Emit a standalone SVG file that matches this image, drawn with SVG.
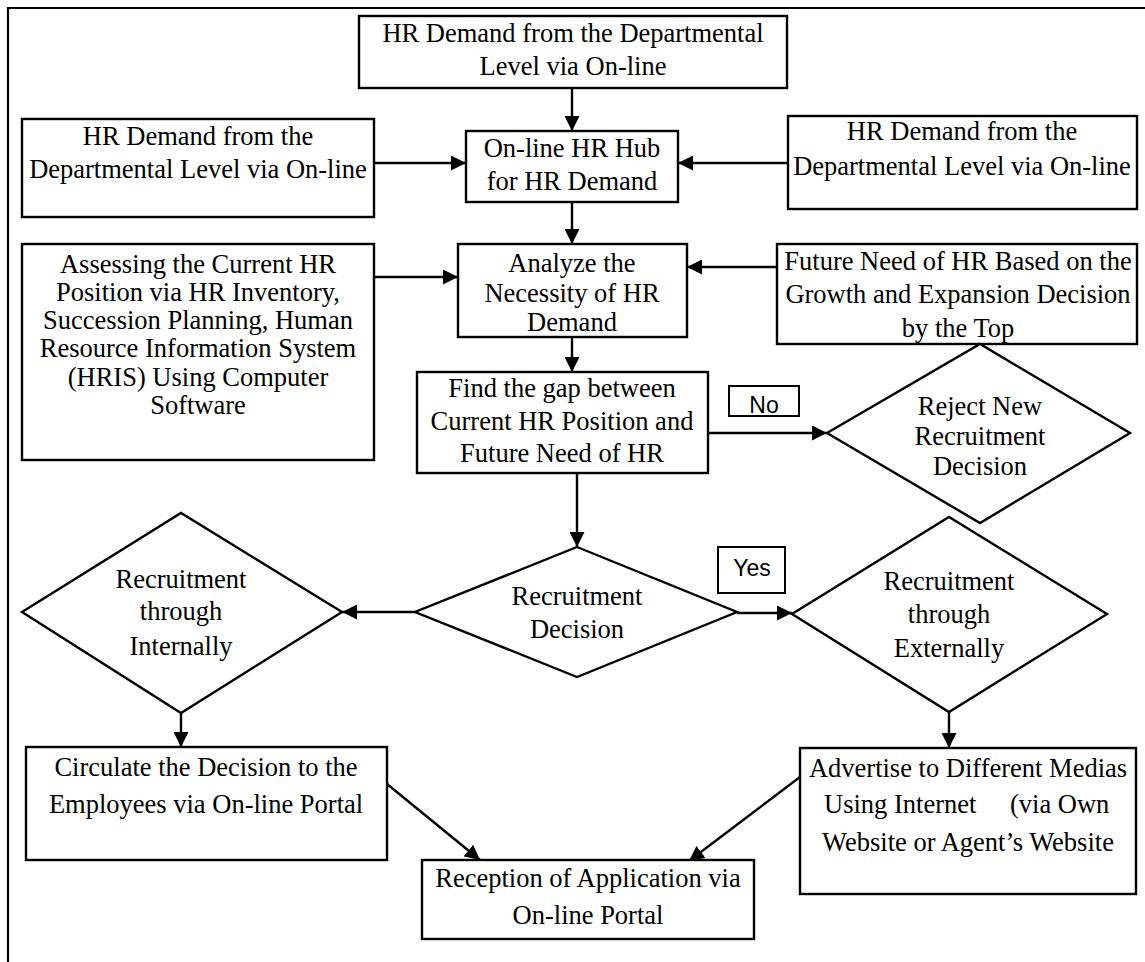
<svg xmlns="http://www.w3.org/2000/svg" width="1145" height="962" viewBox="0 0 1145 962">
  <style>
    .box { fill: #fff; stroke: #000; stroke-width: 2.4; }
    .lbl { fill: #fff; stroke: #000; stroke-width: 2; }
    .t { font-family: "Liberation Serif", "Times New Roman", serif; font-size: 26.5px; fill: #000; text-anchor: middle; }
    .s { font-family: "Liberation Sans", Arial, sans-serif; font-size: 23px; fill: #000; text-anchor: middle; }
    .c { fill: none; stroke: #000; stroke-width: 2.4; marker-end: url(#arrow); }
  </style>
  <defs>
    <marker id="arrow" markerUnits="userSpaceOnUse" markerWidth="15" markerHeight="15" refX="15" refY="7.5" orient="auto">
      <path d="M0,0 L15,7.5 L0,15 z" fill="#000"/>
    </marker>
  </defs>
  <rect width="1145" height="962" fill="#fff"/>
  <!-- page frame -->
  <path d="M8,962 V8 H1145" fill="none" stroke="#000" stroke-width="2.2"/>

  <g id="connectors">
    <path class="c" d="M572,88 V131"/>
    <path class="c" d="M374,163 H466"/>
    <path class="c" d="M788,163 H678"/>
    <path class="c" d="M572,202 V244"/>
    <path class="c" d="M374,277 H458"/>
    <path class="c" d="M777,267 H687"/>
    <path class="c" d="M572,337 V372"/>
    <path class="c" d="M708,433 H827"/>
    <path class="c" d="M577,473 V547"/>
    <path class="c" d="M415,612 H342"/>
    <path class="c" d="M737,613 H792"/>
    <path class="c" d="M181,713 V747"/>
    <path class="c" d="M949,712 V748"/>
    <path class="c" d="M387,784 L480,860"/>
    <path class="c" d="M800,777 L689,861"/>
  </g>

  <g id="demand-top">
    <rect class="box" x="359" y="16" width="428" height="72"/>
    <text class="t" x="573" y="42">HR Demand from the Departmental</text>
    <text class="t" x="573" y="75">Level via On-line</text>
  </g>
  <g id="demand-left">
    <rect class="box" x="22" y="119" width="352" height="98"/>
    <text class="t" x="198" y="145">HR Demand from the</text>
    <text class="t" x="198" y="178">Departmental Level via On-line</text>
  </g>
  <g id="hub">
    <rect class="box" x="466" y="131" width="212" height="71"/>
    <text class="t" x="572" y="157">On-line HR Hub</text>
    <text class="t" x="572" y="190">for HR Demand</text>
  </g>
  <g id="demand-right">
    <rect class="box" x="788" y="116" width="349" height="93"/>
    <text class="t" x="962" y="140">HR Demand from the</text>
    <text class="t" x="962" y="175">Departmental Level via On-line</text>
  </g>
  <g id="assess">
    <rect class="box" x="22" y="244" width="352" height="216"/>
    <text class="t" x="198" y="273">Assessing the Current HR</text>
    <text class="t" x="198" y="301">Position via HR Inventory,</text>
    <text class="t" x="198" y="329">Succession Planning, Human</text>
    <text class="t" x="198" y="357">Resource Information System</text>
    <text class="t" x="198" y="386">(HRIS) Using Computer</text>
    <text class="t" x="198" y="414">Software</text>
  </g>
  <g id="analyze">
    <rect class="box" x="458" y="244" width="229" height="93"/>
    <text class="t" x="572" y="272">Analyze the</text>
    <text class="t" x="572" y="302">Necessity of HR</text>
    <text class="t" x="572" y="331">Demand</text>
  </g>
  <g id="future">
    <rect class="box" x="777" y="244" width="360" height="100"/>
    <text class="t" x="958" y="270">Future Need of HR Based on the</text>
    <text class="t" x="958" y="303">Growth and Expansion Decision</text>
    <text class="t" x="958" y="337">by the Top</text>
  </g>
  <g id="gap">
    <rect class="box" x="417" y="372" width="291" height="101"/>
    <text class="t" x="562" y="397">Find the gap between</text>
    <text class="t" x="562" y="430">Current HR Position and</text>
    <text class="t" x="562" y="462">Future Need of HR</text>
  </g>
  <g id="label-no">
    <rect class="lbl" x="729" y="386" width="70" height="30"/>
    <text class="s" x="764" y="413">No</text>
  </g>
  <g id="reject">
    <polygon class="box" points="827,433 980,344 1130,433 980,523"/>
    <text class="t" x="980" y="415">Reject New</text>
    <text class="t" x="980" y="445">Recruitment</text>
    <text class="t" x="980" y="475">Decision</text>
  </g>
  <g id="decision">
    <polygon class="box" points="577,547 737,612 577,677 415,612"/>
    <text class="t" x="577" y="605">Recruitment</text>
    <text class="t" x="577" y="638">Decision</text>
  </g>
  <g id="label-yes">
    <rect class="lbl" x="718" y="547" width="67" height="46"/>
    <text class="s" x="752" y="576">Yes</text>
  </g>
  <g id="internal">
    <polygon class="box" points="22,612 181,513 342,612 181,713"/>
    <text class="t" x="181" y="588">Recruitment</text>
    <text class="t" x="181" y="620">through</text>
    <text class="t" x="181" y="655">Internally</text>
  </g>
  <g id="external">
    <polygon class="box" points="792,614 949,517 1107,614 949,712"/>
    <text class="t" x="949" y="590">Recruitment</text>
    <text class="t" x="949" y="623">through</text>
    <text class="t" x="949" y="657">Externally</text>
  </g>
  <g id="circulate">
    <rect class="box" x="26" y="747" width="361" height="113"/>
    <text class="t" x="206" y="776">Circulate the Decision to the</text>
    <text class="t" x="206" y="813">Employees via On-line Portal</text>
  </g>
  <g id="advertise">
    <rect class="box" x="800" y="748" width="336" height="146"/>
    <text class="t" x="968" y="777">Advertise to Different Medias</text>
    <text class="t" x="968" y="813" style="text-anchor:start"><tspan x="824">Using Internet</tspan><tspan x="1010">(via Own</tspan></text>
    <text class="t" x="968" y="851">Website or Agent’s Website</text>
  </g>
  <g id="reception">
    <rect class="box" x="422" y="860" width="332" height="79"/>
    <text class="t" x="588" y="887">Reception of Application via</text>
    <text class="t" x="588" y="924">On-line Portal</text>
  </g>
</svg>
